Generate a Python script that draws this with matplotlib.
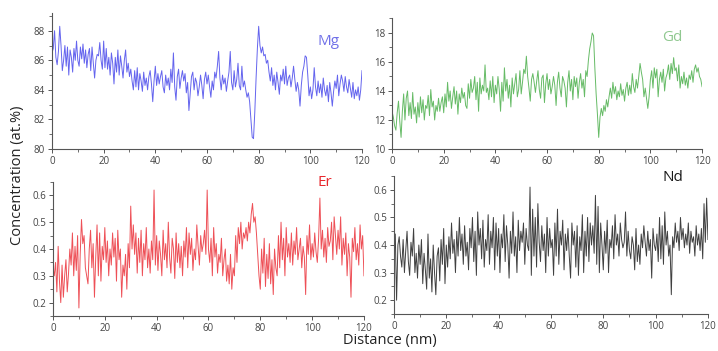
import matplotlib
matplotlib.use("Agg")
import matplotlib.pyplot as plt
from matplotlib.ticker import MultipleLocator
import numpy as np

# distance axis, 0.5 nm steps
distance = np.arange(0, 120.5, 0.5)

mg = [86.5, 86.8, 88.0, 86.2, 85.7, 86.6, 88.3, 87.0, 85.3, 86.0, 87.0, 85.6, 86.9, 85.0, 86.7, 86.2, 85.2, 86.8, 86.0, 87.3,
      86.0, 85.6, 86.9, 86.1, 87.1, 85.8, 86.7, 85.5, 86.4, 86.8, 85.3, 86.9, 85.8, 84.8, 86.0, 86.4, 86.3, 87.2, 86.0, 85.4,
      87.3, 85.5, 86.8, 85.4, 86.2, 85.0, 86.5, 85.8, 84.4, 86.2, 85.2, 86.7, 85.0, 86.3, 85.6, 84.8, 86.0, 86.7, 85.2, 85.8,
      84.9, 85.4, 84.6, 84.0, 85.3, 84.2, 85.5, 84.0, 85.1, 84.6, 83.9, 85.2, 84.3, 84.8, 84.0, 84.9, 85.3, 84.4, 83.2, 84.6,
      85.6, 84.3, 85.1, 84.4, 84.9, 85.3, 84.2, 83.8, 85.0, 84.3, 84.8, 84.0, 85.4, 84.5, 86.5, 84.2, 83.3, 84.9, 85.4, 84.1,
      84.8, 85.3, 84.6, 85.1, 83.8, 84.5, 82.6, 83.8, 84.9, 85.2, 84.0, 84.8, 84.5, 83.6, 84.2, 85.0, 84.3, 83.4, 84.7, 85.2,
      84.4, 85.0, 84.2, 83.5, 84.6, 84.0, 85.2, 84.8, 85.6, 86.6, 84.8, 84.0, 85.0, 84.4, 84.8, 83.9, 84.6, 85.2, 86.6, 84.5,
      84.0, 85.3, 84.2, 84.7, 85.8, 84.3, 84.0, 85.6, 84.2, 84.6, 84.0, 83.5, 83.8, 83.2, 82.0, 80.8, 80.7, 82.5, 84.8, 86.8,
      88.3, 87.0, 86.5, 86.9, 86.3, 86.4, 85.8, 86.0, 85.2, 84.6, 85.5, 84.3, 85.0, 84.0, 85.2, 84.5, 83.7, 85.0, 84.6, 85.4,
      84.4, 85.6, 84.3, 84.8, 85.0, 84.2, 84.8, 85.6, 84.7, 83.9, 84.5, 84.0, 82.9, 84.3, 85.2, 85.6, 86.3, 86.2, 85.0, 83.6,
      84.2, 83.4, 84.0, 85.5, 84.2, 83.6, 84.6, 83.8, 84.4, 83.5, 84.8, 84.0, 83.6, 84.3, 83.2, 84.5, 83.8, 82.9, 83.9, 84.6,
      84.1, 85.0, 83.6, 84.4, 85.0, 84.6, 83.9, 84.9, 84.2, 83.8, 84.7, 84.1, 83.5, 84.5, 83.4, 84.0, 83.6, 84.2, 83.3, 84.0,
      85.3]

gd = [12.6, 12.2, 11.6, 11.3, 12.5, 13.3, 11.9, 10.8, 12.6, 13.8, 12.0, 13.5, 14.0, 12.3, 13.2, 12.1, 13.9, 12.4, 12.9, 11.8,
      13.2, 12.2, 13.6, 12.5, 13.4, 12.0, 13.0, 12.8, 13.7, 12.3, 14.1, 12.9, 13.3, 12.0, 13.0, 12.6, 13.5, 12.6, 13.2, 13.6,
      12.5, 13.8, 12.9, 14.6, 13.3, 14.0, 12.8, 13.6, 14.3, 13.1, 14.0, 12.4, 13.8, 13.2, 14.2, 13.5, 13.9, 13.0, 12.8, 14.5,
      13.5, 14.8, 13.9, 14.2, 15.0, 13.4, 14.6, 12.6, 14.9, 13.8, 14.4, 14.0, 15.8, 13.9, 14.2, 13.4, 14.7, 13.6, 15.0, 13.2,
      14.4, 13.8, 15.0, 14.1, 12.6, 14.6, 13.3, 15.6, 14.0, 14.8, 13.5, 14.4, 12.9, 14.9, 13.8, 14.5, 15.2, 13.6, 14.1, 15.4,
      13.8, 14.6, 15.5, 15.2, 16.4, 15.0, 14.2, 13.3, 14.8, 15.2, 14.6, 13.9, 14.7, 15.4, 14.1, 13.5, 14.9, 15.1, 13.2, 14.5,
      15.2, 14.1, 14.8, 13.8, 14.3, 15.0, 14.4, 13.0, 14.6, 15.3, 14.2, 13.6, 15.0, 14.7, 14.2, 12.9, 14.6, 15.4, 14.0, 14.8,
      13.4, 15.0, 14.3, 14.9, 13.5, 14.6, 15.2, 14.2, 14.8, 13.6, 15.4, 15.0, 16.1, 16.9, 17.4, 18.0, 17.8, 15.6, 13.8, 12.4,
      10.8, 12.2, 12.8, 12.3, 13.0, 12.6, 13.4, 12.9, 13.6, 14.2, 13.5, 14.6, 13.8, 14.3, 13.4, 14.0, 13.6, 14.5, 13.7, 14.1,
      13.3, 14.2, 14.6, 13.7, 14.4, 13.8, 15.2, 14.3, 13.9, 14.8, 14.2, 15.0, 15.9, 15.3, 14.8, 13.6, 14.2, 13.5, 12.8, 13.6,
      14.8, 15.4, 14.2, 15.6, 14.9, 15.5, 13.6, 14.8, 15.3, 14.6, 15.5, 14.0, 14.9, 15.2, 15.8, 14.8, 15.9, 15.2, 16.3, 15.4,
      15.6, 14.7, 15.8, 14.2, 15.0, 14.5, 15.3, 14.4, 14.9, 14.2, 15.1, 14.8, 15.4, 14.6, 15.5, 15.8, 15.3, 15.6, 15.0, 14.8,
      14.3]

er = [0.33, 0.30, 0.35, 0.24, 0.41, 0.28, 0.20, 0.34, 0.22, 0.30, 0.36, 0.24, 0.31, 0.40, 0.34, 0.46, 0.30, 0.41, 0.32, 0.45,
      0.18, 0.38, 0.51, 0.42, 0.45, 0.33, 0.30, 0.27, 0.40, 0.47, 0.33, 0.42, 0.22, 0.37, 0.49, 0.30, 0.46, 0.28, 0.41, 0.36,
      0.48, 0.35, 0.43, 0.30, 0.40, 0.34, 0.46, 0.37, 0.44, 0.28, 0.47, 0.36, 0.40, 0.22, 0.34, 0.30, 0.38, 0.25, 0.42, 0.33,
      0.56, 0.40, 0.49, 0.38, 0.46, 0.31, 0.44, 0.35, 0.47, 0.30, 0.42, 0.36, 0.48, 0.33, 0.40, 0.31, 0.43, 0.36, 0.62, 0.34,
      0.45, 0.32, 0.43, 0.38, 0.30, 0.47, 0.36, 0.42, 0.33, 0.50, 0.37, 0.31, 0.44, 0.40, 0.29, 0.46, 0.35, 0.42, 0.33, 0.41,
      0.30, 0.43, 0.37, 0.48, 0.33, 0.46, 0.38, 0.44, 0.32, 0.40, 0.36, 0.49, 0.41, 0.34, 0.45, 0.39, 0.42, 0.47, 0.38, 0.62,
      0.40, 0.35, 0.44, 0.30, 0.48, 0.37, 0.42, 0.31, 0.38, 0.35, 0.44, 0.30, 0.36, 0.40, 0.28, 0.34, 0.27, 0.38, 0.25, 0.33,
      0.30, 0.45, 0.35, 0.48, 0.42, 0.50, 0.40, 0.46, 0.44, 0.48, 0.43, 0.50, 0.46, 0.53, 0.57, 0.50, 0.52, 0.46, 0.38, 0.30,
      0.25, 0.40, 0.31, 0.44, 0.26, 0.38, 0.29, 0.42, 0.27, 0.36, 0.23, 0.40, 0.33, 0.30, 0.45, 0.33, 0.50, 0.36, 0.44, 0.30,
      0.48, 0.37, 0.42, 0.35, 0.46, 0.34, 0.43, 0.38, 0.48, 0.36, 0.40, 0.44, 0.33, 0.41, 0.37, 0.23, 0.45, 0.38, 0.49, 0.36,
      0.42, 0.37, 0.46, 0.39, 0.35, 0.44, 0.59, 0.40, 0.47, 0.37, 0.44, 0.35, 0.48, 0.41, 0.43, 0.50, 0.36, 0.52, 0.45, 0.38,
      0.47, 0.40, 0.52, 0.34, 0.44, 0.38, 0.46, 0.30, 0.42, 0.37, 0.22, 0.44, 0.39, 0.48, 0.36, 0.42, 0.34, 0.49, 0.40, 0.45,
      0.30]

nd = [0.35, 0.44, 0.20, 0.40, 0.43, 0.36, 0.32, 0.42, 0.30, 0.38, 0.45, 0.34, 0.29, 0.41, 0.36, 0.46, 0.30, 0.37, 0.28, 0.40,
      0.33, 0.42, 0.26, 0.37, 0.31, 0.24, 0.44, 0.28, 0.35, 0.23, 0.40, 0.30, 0.22, 0.36, 0.39, 0.27, 0.42, 0.33, 0.46, 0.26,
      0.40, 0.32, 0.43, 0.35, 0.48, 0.37, 0.42, 0.30, 0.45, 0.36, 0.50, 0.38, 0.44, 0.33, 0.47, 0.36, 0.41, 0.31, 0.46, 0.39,
      0.50, 0.34, 0.45, 0.29, 0.52, 0.40, 0.46, 0.35, 0.49, 0.32, 0.42, 0.38, 0.51, 0.33, 0.45, 0.39, 0.50, 0.31, 0.48, 0.36,
      0.46, 0.30, 0.44, 0.39, 0.51, 0.34, 0.47, 0.40, 0.28, 0.45, 0.37, 0.52, 0.36, 0.43, 0.30, 0.49, 0.38, 0.45, 0.41, 0.48,
      0.33, 0.46, 0.40, 0.38, 0.61, 0.29, 0.53, 0.36, 0.50, 0.32, 0.55, 0.41, 0.34, 0.47, 0.38, 0.44, 0.30, 0.50, 0.36, 0.46,
      0.39, 0.42, 0.29, 0.48, 0.36, 0.53, 0.33, 0.45, 0.40, 0.49, 0.31, 0.44, 0.38, 0.46, 0.36, 0.28, 0.48, 0.40, 0.45, 0.32,
      0.47, 0.29, 0.43, 0.38, 0.51, 0.30, 0.45, 0.36, 0.50, 0.34, 0.48, 0.40, 0.47, 0.37, 0.58, 0.33, 0.54, 0.30, 0.48, 0.40,
      0.31, 0.45, 0.37, 0.49, 0.30, 0.42, 0.39, 0.47, 0.35, 0.51, 0.40, 0.44, 0.36, 0.48, 0.42, 0.39, 0.41, 0.52, 0.36, 0.45,
      0.38, 0.35, 0.43, 0.40, 0.31, 0.46, 0.34, 0.40, 0.33, 0.44, 0.39, 0.47, 0.41, 0.36, 0.45, 0.38, 0.42, 0.28, 0.46, 0.40,
      0.38, 0.44, 0.34, 0.50, 0.35, 0.47, 0.33, 0.52, 0.40, 0.45, 0.36, 0.40, 0.22, 0.43, 0.39, 0.48, 0.41, 0.45, 0.38, 0.50,
      0.42, 0.46, 0.39, 0.44, 0.40, 0.48, 0.37, 0.45, 0.41, 0.43, 0.36, 0.47, 0.40, 0.44, 0.38, 0.46, 0.35, 0.55, 0.41, 0.57,
      0.42]

plt.rcParams['font.family'] = ['Open Sans', 'DejaVu Sans']

fig = plt.figure(figsize=(7.18, 3.51), dpi=100)

# panel setup: data, axes rect, ylim, y major/minor step, line colour
panels = [
    (mg, [0.0724, 0.5755, 0.4318, 0.3875], (80, 89.2), 2, 1, '#6464ee'),
    (gd, [0.5460, 0.5755, 0.4318, 0.3718], (10, 19), 2, 1, '#66bb66'),
    (er, [0.0738, 0.0997, 0.4331, 0.3818], (0.15, 0.65), 0.1, 0.05, '#ee5057'),
    (nd, [0.5487, 0.1054, 0.4373, 0.3930], (0.15, 0.65), 0.1, 0.05, '#404040'),
]

for vals, rect, ylim, ymaj, ymin, col in panels:
    ax = fig.add_axes(rect)
    ax.plot(distance, vals, color=col, lw=0.7)
    ax.set_xlim(0, 120)
    ax.set_ylim(*ylim)
    ax.xaxis.set_major_locator(MultipleLocator(20))
    ax.xaxis.set_minor_locator(MultipleLocator(10))
    ax.yaxis.set_major_locator(MultipleLocator(ymaj))
    ax.yaxis.set_minor_locator(MultipleLocator(ymin))
    for s in ['top', 'right']:
        ax.spines[s].set_visible(False)
    for s in ['left', 'bottom']:
        ax.spines[s].set_color('#555555')
        ax.spines[s].set_linewidth(0.8)
    ax.tick_params(which='major', direction='out', length=3, width=0.7,
                   colors='#555555', labelsize=7, labelcolor='#444444', pad=2)
    ax.tick_params(which='minor', direction='out', length=2, width=0.6, colors='#555555')

fig.text(0.458, 0.883, 'Mg', color='#7070e8', fontsize=11, ha='center', va='center')
fig.text(0.936, 0.893, 'Gd', color='#90c890', fontsize=11, ha='center', va='center')
fig.text(0.452, 0.480, 'Er', color='#e8282e', fontsize=11, ha='center', va='center')
fig.text(0.937, 0.493, 'Nd', color='#1a1a1a', fontsize=11, ha='center', va='center')

fig.text(0.025, 0.5, 'Concentration (at.%)', rotation=90, fontsize=10.5,
         ha='center', va='center', color='#222222')
fig.text(0.543, 0.031, 'Distance (nm)', fontsize=10.5, ha='center', va='center', color='#222222')

fig.savefig('out.png', dpi=100)
